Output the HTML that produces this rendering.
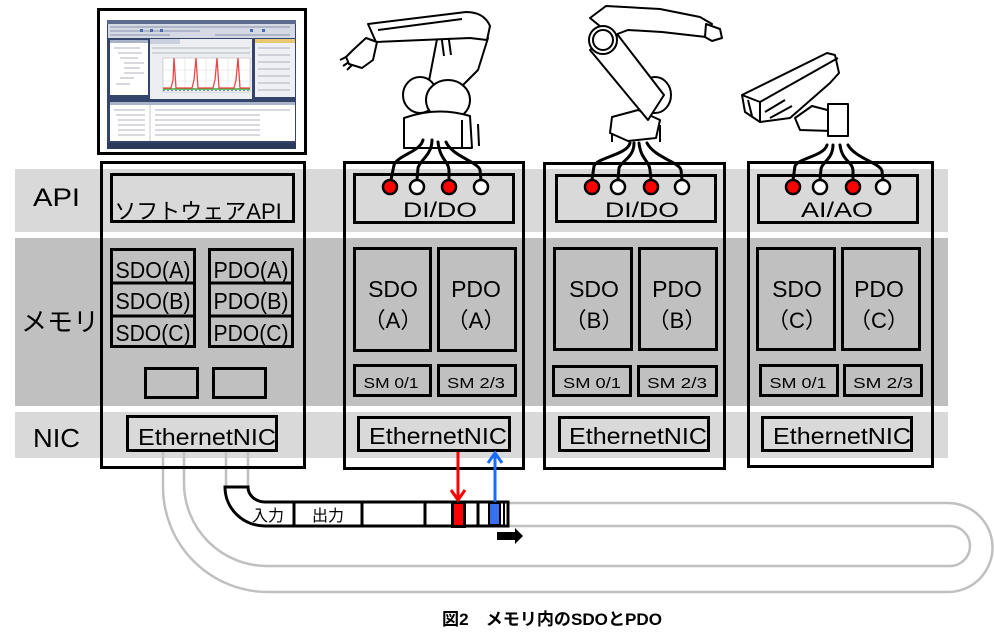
<!DOCTYPE html>
<html><head><meta charset="utf-8"><style>
html,body{margin:0;padding:0;background:#fff;}
svg{display:block;}
text{font-family:"Liberation Sans","Noto Sans CJK JP",sans-serif;fill:#000;}
</style></head><body>
<svg width="994" height="641" viewBox="0 0 994 641" xmlns="http://www.w3.org/2000/svg">
<!-- bands -->
<rect x="15" y="169" width="933" height="63" fill="#d9d9d9"/>
<rect x="15" y="238" width="933" height="168" fill="#c0c0c0"/>
<rect x="15" y="412" width="933" height="46" fill="#d9d9d9"/>

<!-- row labels -->
<text x="33" y="206" font-size="25" textLength="47" lengthAdjust="spacingAndGlyphs">API</text>
<text x="21" y="331" font-size="26">メモリ</text>
<text x="33" y="447" font-size="26" textLength="47" lengthAdjust="spacingAndGlyphs">NIC</text>

<!-- gray loop lines -->
<g fill="none" stroke="#c0c0c0" stroke-width="2.5">
<path d="M163,452 V487 A105,105 0 0 0 268,592 H948 A44.5,44.5 0 0 0 948,503 H508"/>
<path d="M184,452 V483 A83,83 0 0 0 267,566 H950 A20,20 0 0 0 950,526 H508"/>
<path d="M226,452 V487 M248,452 V487"/>
</g>

<!-- PC screenshot -->
<rect x="98.5" y="9.5" width="207" height="144" fill="#fff" stroke="#000" stroke-width="3"/>
<rect x="107" y="20" width="189" height="129" fill="#34446a"/>
<rect x="107" y="20" width="189" height="4" fill="#5a6b8f"/>
<rect x="108" y="24" width="187" height="14" fill="#d4d9e4"/>
<g stroke="#8a94aa" stroke-width="1"><line x1="110" y1="27" x2="290" y2="27"/><line x1="110" y1="31" x2="200" y2="31"/><line x1="110" y1="35" x2="170" y2="35"/><line x1="215" y1="35" x2="290" y2="35"/></g>
<g fill="#4a6fb0"><rect x="140" y="29" width="3" height="3"/><rect x="150" y="29" width="3" height="3"/><rect x="160" y="29" width="3" height="3"/><rect x="250" y="29" width="3" height="3"/><rect x="262" y="29" width="3" height="3"/></g>
<rect x="110" y="40" width="38" height="3" fill="#aab4c8"/>
<rect x="110" y="43" width="38" height="52" fill="#fff"/>
<rect x="150" y="39" width="102" height="60" fill="#eceef2"/>
<rect x="150" y="39" width="30" height="5" fill="#c8d0e0"/>
<g stroke="#9aa" stroke-width="0.8"><line x1="152" y1="48" x2="250" y2="48"/><line x1="152" y1="53" x2="250" y2="53"/></g>
<rect x="163" y="58" width="87" height="34" fill="#fff" stroke="#aaa" stroke-width="0.5"/>
<g stroke="#ddd" stroke-width="0.6"><line x1="185" y1="58" x2="185" y2="92"/><line x1="206" y1="58" x2="206" y2="92"/><line x1="228" y1="58" x2="228" y2="92"/><line x1="163" y1="70" x2="250" y2="70"/><line x1="163" y1="81" x2="250" y2="81"/></g>
<line x1="163" y1="89" x2="250" y2="89" stroke="#3a3" stroke-width="1.5"/>
<line x1="163" y1="90.5" x2="250" y2="90.5" stroke="#36c" stroke-width="0.8" stroke-dasharray="2,2"/>
<polyline points="163,88 171,88 173,80 174,58 176,88 192,88 194,80 196,58 198,88 213,88 215,80 217,58 219,88 234,88 236,80 238,58 240,88 250,88" fill="none" stroke="#e44" stroke-width="1.3"/>
<rect x="255" y="39" width="40" height="58" fill="#eef0f5"/>
<rect x="255" y="39" width="40" height="4" fill="#e8c870"/>
<rect x="110" y="102" width="185" height="3" fill="#aab4c8"/>
<rect x="110" y="105" width="185" height="36" fill="#fff"/>
<g stroke="#99a" stroke-width="0.8"><line x1="114" y1="48" x2="140" y2="48"/><line x1="118" y1="53" x2="142" y2="53"/><line x1="120" y1="58" x2="138" y2="58"/><line x1="124" y1="63" x2="144" y2="63"/><line x1="124" y1="68" x2="140" y2="68"/><line x1="124" y1="73" x2="144" y2="73"/><line x1="120" y1="78" x2="134" y2="78"/><line x1="116" y1="84" x2="130" y2="84"/><line x1="258" y1="48" x2="290" y2="48"/><line x1="258" y1="55" x2="290" y2="55"/><line x1="258" y1="62" x2="290" y2="62"/><line x1="258" y1="69" x2="290" y2="69"/><line x1="258" y1="76" x2="290" y2="76"/><line x1="258" y1="83" x2="290" y2="83"/><line x1="258" y1="90" x2="290" y2="90"/><line x1="114" y1="110" x2="145" y2="110"/><line x1="116" y1="115" x2="145" y2="115"/><line x1="118" y1="120" x2="145" y2="120"/><line x1="118" y1="125" x2="145" y2="125"/><line x1="118" y1="130" x2="145" y2="130"/><line x1="118" y1="135" x2="145" y2="135"/><line x1="155" y1="110" x2="290" y2="110"/><line x1="155" y1="115" x2="260" y2="115"/><line x1="155" y1="120" x2="260" y2="120"/><line x1="155" y1="125" x2="260" y2="125"/><line x1="155" y1="130" x2="260" y2="130"/><line x1="155" y1="135" x2="260" y2="135"/></g>
<line x1="150" y1="105" x2="150" y2="141" stroke="#bbb" stroke-width="0.8"/>
<rect x="107" y="143" width="189" height="6" fill="#2b3a5c"/>

<!-- Robot 1 -->
<g fill="#fff" stroke="#000" stroke-width="2" stroke-linejoin="round">
<path d="M438,34 L488,38 L478,70 L452,96 L428,86 Z"/>
<path d="M441,33 L444,56 M448,33 L451,55" fill="none"/>
<path d="M368,24 L466,12 Q484,12 490,26 L487,40 L470,38 L376,42 Z"/>
<path d="M378,30 L462,19" fill="none"/>
<path d="M366,38 L377,42 L373,60 L362,68 L349,64 L346,57 L353,50 Z"/>
<path d="M346,57 L340,60 M349,62 L343,66 M352,65 L347,70" fill="none"/>
<ellipse cx="420" cy="95" rx="17" ry="18"/>
<ellipse cx="448" cy="100" rx="22" ry="20"/>
<path d="M404,118 Q437,106 470,116 L472,148 L404,148 Z"/>
<path d="M462,120 L462,148 M478,124 L479,146" fill="none"/>
</g>

<!-- Robot 2 -->
<g fill="#fff" stroke="#000" stroke-width="2" stroke-linejoin="round">
<ellipse cx="655" cy="95" rx="16" ry="18"/>
<path d="M612,117 L638,110 L660,120 L656,138 L628,141 L610,133 Z"/>
<path d="M612,133 L612,142 M660,125 L660,142" fill="none"/>
<path d="M590,50 L614,30 L664,95 L648,120 Z"/>
<path d="M590,18 L606,6 L660,9 L700,17 L712,24 L706,37 L662,32 L628,30 L612,36 Z"/>
<path d="M706,24 L720,29 L722,38 L712,41 L705,37 Z"/>
<circle cx="603" cy="40" r="14"/><circle cx="603" cy="40" r="10"/>
</g>

<!-- Camera -->
<g fill="#fff" stroke="#000" stroke-width="2" stroke-linejoin="round">
<path d="M795,118 L812,106 L835,112 L840,125 L832,131 L800,130 Z"/>
<rect x="828" y="104" width="20" height="32"/>
<path d="M742,95 L827,53 L835,55 L839,73 L830,83 L790,118 L760,122 L745,112 Z"/>
<path d="M742,95 L760,102 L838,58 M760,102 L760,122 M748,100 L752,116" fill="none"/>
<path d="M765,112 L785,100 M770,118 L792,106" fill="none"/>
</g>

<!-- wires -->
<g fill="none" stroke="#000" stroke-width="3" stroke-linecap="round">
<path d="M423,140 C420,152 398,155 394,165 L391,180"/>
<path d="M432,140 C432,155 420,160 418,168 L417,180"/>
<path d="M438,142 C440,160 448,160 449,170 L449,180"/>
<path d="M446,142 C452,156 478,162 480,170 L481,180"/>
<path d="M630,143 C627,155 598,157 594,166 L592,180"/>
<path d="M634,143 C634,158 621,161 619,168 L618,180"/>
<path d="M639,143 C641,160 649,160 650,170 L651,180"/>
<path d="M647,143 C654,157 679,162 681,170 L682,180"/>
<path d="M827,145 C824,156 799,158 795,166 L793,180"/>
<path d="M833,145 C833,159 822,162 821,169 L820,180"/>
<path d="M840,145 C842,161 852,161 853,170 L853,180"/>
<path d="M848,145 C855,158 880,163 882,171 L883,180"/>
</g>

<!-- boxes -->
<g fill="none" stroke="#000" stroke-width="3">
<rect x="101.5" y="162.5" width="203" height="305"/>
<rect x="111.5" y="174.5" width="182" height="47"/>
<rect x="111.5" y="249.5" width="83" height="97"/>
<line x1="111" y1="283" x2="195" y2="283"/><line x1="111" y1="316" x2="195" y2="316"/>
<rect x="209.5" y="249.5" width="83" height="97"/>
<line x1="209" y1="283" x2="293" y2="283"/><line x1="209" y1="316" x2="293" y2="316"/>
<rect x="145.5" y="368.5" width="52" height="29"/>
<rect x="213.5" y="368.5" width="52" height="29"/>
<rect x="127.5" y="416.5" width="149" height="34"/>
<rect x="344.5" y="162.5" width="179" height="306"/>
<rect x="354.5" y="174.5" width="159" height="48"/>
<rect x="354.5" y="248.5" width="76" height="102"/>
<rect x="438.5" y="248.5" width="77" height="102"/>
<rect x="354.5" y="365.5" width="76" height="30"/>
<rect x="438.5" y="365.5" width="77" height="30"/>
<rect x="358.5" y="417.5" width="151" height="33"/>
<rect x="544.5" y="163.5" width="180" height="305"/>
<rect x="556.5" y="175.5" width="159" height="46"/>
<rect x="554.5" y="248.5" width="77" height="101"/>
<rect x="639.5" y="248.5" width="77" height="101"/>
<rect x="553.5" y="366.5" width="77" height="29"/>
<rect x="638.5" y="366.5" width="78" height="29"/>
<rect x="559.5" y="417.5" width="149" height="33"/>
<rect x="748.5" y="162.5" width="184" height="304"/>
<rect x="758.5" y="175.5" width="159" height="47"/>
<rect x="757.5" y="248.5" width="77" height="101"/>
<rect x="842.5" y="248.5" width="77" height="101"/>
<rect x="760.5" y="365.5" width="77" height="30"/>
<rect x="844.5" y="365.5" width="77" height="30"/>
<rect x="762.5" y="417.5" width="149" height="33"/>
</g>

<!-- IO circles -->
<g stroke="#000" stroke-width="2.5">
<circle cx="390" cy="187" r="7" fill="#f00"/><circle cx="417" cy="187" r="7" fill="#fff"/><circle cx="449" cy="187" r="7" fill="#f00"/><circle cx="481" cy="187" r="7" fill="#fff"/>
<circle cx="592" cy="187" r="7" fill="#f00"/><circle cx="618" cy="187" r="7" fill="#fff"/><circle cx="651" cy="187" r="7" fill="#f00"/><circle cx="682" cy="187" r="7" fill="#fff"/>
<circle cx="793" cy="187" r="7" fill="#f00"/><circle cx="820" cy="187" r="7" fill="#fff"/><circle cx="853" cy="187" r="7" fill="#f00"/><circle cx="883" cy="187" r="7" fill="#fff"/>
</g>

<!-- left box texts -->
<text x="198" y="219" font-size="22" text-anchor="middle">ソフトウェアAPI</text>
<g font-size="23" text-anchor="middle">
<text x="153" y="278" textLength="75" lengthAdjust="spacingAndGlyphs">SDO(A)</text>
<text x="153" y="309" textLength="75" lengthAdjust="spacingAndGlyphs">SDO(B)</text>
<text x="153" y="341" textLength="75" lengthAdjust="spacingAndGlyphs">SDO(C)</text>
<text x="251" y="278" textLength="75" lengthAdjust="spacingAndGlyphs">PDO(A)</text>
<text x="251" y="309" textLength="75" lengthAdjust="spacingAndGlyphs">PDO(B)</text>
<text x="251" y="341" textLength="75" lengthAdjust="spacingAndGlyphs">PDO(C)</text>
</g>
<g font-size="23" text-anchor="middle">
<text x="207" y="445" textLength="138" lengthAdjust="spacingAndGlyphs">EthernetNIC</text>
<text x="438" y="444" textLength="138" lengthAdjust="spacingAndGlyphs">EthernetNIC</text>
<text x="638" y="444" textLength="138" lengthAdjust="spacingAndGlyphs">EthernetNIC</text>
<text x="842" y="444" textLength="138" lengthAdjust="spacingAndGlyphs">EthernetNIC</text>
</g>
<g font-size="21" text-anchor="middle">
<text x="440" y="217" textLength="74" lengthAdjust="spacingAndGlyphs">DI/DO</text>
<text x="642" y="217" textLength="74" lengthAdjust="spacingAndGlyphs">DI/DO</text>
<text x="837" y="217" textLength="72" lengthAdjust="spacingAndGlyphs">AI/AO</text>
</g>
<g font-size="23" text-anchor="middle">
<text x="393" y="297">SDO</text><text x="476" y="297">PDO</text>
<text x="594" y="297">SDO</text><text x="677" y="297">PDO</text>
<text x="797" y="297">SDO</text><text x="879" y="297">PDO</text>
</g>
<g font-size="22" text-anchor="middle">
<text x="393" y="328">（A）</text><text x="476" y="328">（A）</text>
<text x="594" y="328">（B）</text><text x="677" y="328">（B）</text>
<text x="797" y="328">（C）</text><text x="879" y="328">（C）</text>
</g>
<g font-size="15" text-anchor="middle">
<text x="391" y="388" textLength="55" lengthAdjust="spacingAndGlyphs">SM 0/1</text>
<text x="476" y="388" textLength="58" lengthAdjust="spacingAndGlyphs">SM 2/3</text>
<text x="592" y="388" textLength="58" lengthAdjust="spacingAndGlyphs">SM 0/1</text>
<text x="677" y="388" textLength="60" lengthAdjust="spacingAndGlyphs">SM 2/3</text>
<text x="798" y="388" textLength="57" lengthAdjust="spacingAndGlyphs">SM 0/1</text>
<text x="883" y="388" textLength="60" lengthAdjust="spacingAndGlyphs">SM 2/3</text>
</g>

<!-- tape -->
<path d="M225,487 H248 A17,15 0 0 0 265,502 H508 V526 H265 A40,39 0 0 1 225,487 Z" fill="#fff" stroke="#000" stroke-width="3"/>
<g stroke="#000" stroke-width="3">
<line x1="294" y1="502" x2="294" y2="526"/>
<line x1="362" y1="502" x2="362" y2="526"/>
<line x1="425" y1="502" x2="425" y2="526"/>
<line x1="478" y1="502" x2="478" y2="526"/>
<line x1="504" y1="502" x2="504" y2="526" stroke-width="2"/>
</g>
<rect x="452.5" y="502.5" width="12" height="24" fill="#f00" stroke="#000" stroke-width="3"/>
<rect x="489" y="503" width="11" height="22" fill="#3a6ef0" stroke="#000" stroke-width="2"/>
<text x="252" y="521" font-size="16">入力</text>
<text x="312" y="521" font-size="16">出力</text>

<!-- arrows -->
<g fill="none" stroke-width="3">
<line x1="458" y1="452" x2="458" y2="500" stroke="#f00"/>
<polyline points="451,490 458,500 465,490" stroke="#f00"/>
<line x1="495" y1="502" x2="495" y2="454" stroke="#1a6bff"/>
<polyline points="488,463 495,453 502,463" stroke="#1a6bff"/>
</g>
<polygon points="497,532 515,532 515,528 523,536 515,544 515,540 497,540" fill="#000"/>

<!-- caption -->
<text x="442" y="625" font-size="17" font-weight="bold" textLength="220" lengthAdjust="spacingAndGlyphs">図2　メモリ内のSDOとPDO</text>
</svg>
</body></html>
